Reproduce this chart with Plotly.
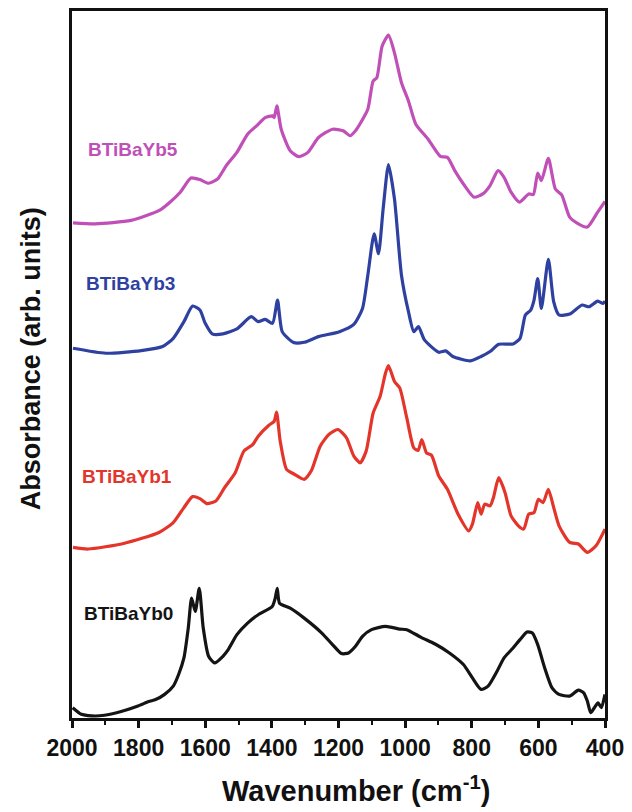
import plotly.graph_objects as go

# FTIR spectra of BTiBaYb glasses (absorbance, arbitrary units, stacked)
wn_yb0 = [1998, 1972, 1930, 1866, 1802, 1770, 1749, 1722, 1696, 1680, 1664, 1651, 1641, 1630,
          1618, 1606, 1590, 1572, 1547, 1531, 1505, 1473, 1441, 1399, 1390, 1384, 1377, 1345,
          1303, 1250, 1218, 1191, 1170, 1149, 1128, 1101, 1059, 1016, 995, 952, 910, 867, 825,
          798, 772, 751, 724, 703, 676, 655, 634, 618, 602, 581, 559, 538, 506, 480, 464, 453,
          443, 432, 421, 411, 400]
abs_yb0 = [0.103, 0.037, 0.020, 0.053, 0.120, 0.165, 0.185, 0.237, 0.320, 0.437, 0.603, 0.903,
           1.203, 1.070, 1.303, 0.903, 0.620, 0.553, 0.620, 0.687, 0.837, 0.953, 1.037, 1.120,
           1.203, 1.303, 1.153, 1.103, 1.003, 0.853, 0.737, 0.647, 0.653, 0.720, 0.820, 0.887,
           0.920, 0.893, 0.887, 0.810, 0.743, 0.653, 0.537, 0.403, 0.287, 0.320, 0.470, 0.603,
           0.703, 0.787, 0.863, 0.853, 0.737, 0.503, 0.303, 0.237, 0.220, 0.280, 0.253, 0.170,
           0.053, 0.103, 0.153, 0.103, 0.237]

wn_yb1 = [1997, 1951, 1845, 1739, 1696, 1664, 1638, 1616, 1595, 1568, 1542, 1510, 1484, 1457,
          1441, 1409, 1393, 1386, 1375, 1356, 1335, 1303, 1282, 1255, 1229, 1202, 1176, 1154,
          1135, 1117, 1096, 1075, 1059, 1050, 1032, 1016, 995, 974, 961, 950, 936, 921, 899,
          873, 841, 809, 798, 782, 772, 761, 745, 735, 719, 700, 682, 660, 644, 629, 613, 600,
          586, 570, 554, 538, 506, 480, 453, 427, 400]
abs_yb1 = [0.113, 0.097, 0.153, 0.263, 0.363, 0.513, 0.623, 0.603, 0.553, 0.580, 0.713, 0.863,
           1.080, 1.147, 1.230, 1.340, 1.380, 1.473, 1.180, 0.897, 0.853, 0.797, 0.880, 1.130,
           1.247, 1.297, 1.213, 1.030, 0.963, 1.080, 1.463, 1.630, 1.863, 1.940, 1.780, 1.713,
           1.413, 1.113, 1.087, 1.197, 1.063, 1.040, 0.830, 0.697, 0.447, 0.280, 0.347, 0.563,
           0.447, 0.547, 0.530, 0.613, 0.813, 0.663, 0.430, 0.330, 0.297, 0.447, 0.463, 0.597,
           0.563, 0.697, 0.513, 0.330, 0.163, 0.147, 0.063, 0.130, 0.297]

wn_yb3 = [1997, 1898, 1792, 1728, 1696, 1664, 1638, 1616, 1600, 1579, 1547, 1505, 1462, 1441,
          1420, 1398, 1383, 1369, 1335, 1303, 1260, 1197, 1154, 1128, 1112, 1093, 1080, 1066,
          1050, 1032, 1011, 990, 974, 960, 942, 899, 878, 857, 804, 772, 745, 719, 676, 655,
          639, 623, 613, 602, 591, 570, 554, 538, 506, 469, 448, 422, 406, 400]
abs_yb3 = [0.163, 0.113, 0.140, 0.180, 0.263, 0.430, 0.587, 0.547, 0.413, 0.307, 0.307, 0.357,
           0.480, 0.430, 0.453, 0.413, 0.647, 0.330, 0.220, 0.223, 0.280, 0.330, 0.403, 0.563,
           0.897, 1.313, 1.113, 1.563, 2.007, 1.663, 0.897, 0.530, 0.330, 0.380, 0.247, 0.123,
           0.137, 0.080, 0.037, 0.080, 0.130, 0.203, 0.207, 0.263, 0.497, 0.547, 0.647, 0.863,
           0.563, 1.057, 0.630, 0.497, 0.507, 0.597, 0.580, 0.637, 0.613, 0.637]

wn_yb5 = [1997, 1930, 1823, 1738, 1706, 1675, 1643, 1616, 1590, 1563, 1537, 1505, 1473, 1446,
          1420, 1398, 1393, 1385, 1372, 1345, 1319, 1292, 1260, 1218, 1186, 1165, 1149, 1133,
          1112, 1096, 1085, 1069, 1050, 1032, 1011, 990, 968, 931, 894, 873, 851, 825, 793,
          767, 745, 721, 703, 682, 657, 629, 615, 602, 591, 570, 549, 530, 506, 480, 453, 422,
          400]
abs_yb5 = [0.073, 0.063, 0.097, 0.197, 0.280, 0.380, 0.523, 0.507, 0.470, 0.513, 0.647, 0.780,
           0.963, 1.047, 1.130, 1.147, 1.130, 1.247, 1.013, 0.797, 0.737, 0.780, 0.930, 1.013,
           0.997, 0.947, 0.997, 1.080, 1.213, 1.497, 1.530, 1.847, 1.957, 1.780, 1.480, 1.297,
           1.063, 0.913, 0.740, 0.730, 0.597, 0.463, 0.330, 0.363, 0.447, 0.597, 0.530, 0.380,
           0.280, 0.363, 0.357, 0.573, 0.497, 0.720, 0.413, 0.353, 0.130, 0.063, 0.030, 0.180,
           0.287]

sample_names = ["BTiBaYb0", "BTiBaYb1", "BTiBaYb3", "BTiBaYb5"]
stack_offsets = [0.0, 1.60, 3.55, 4.90]
label_wn = [1830, 1836, 1823, 1816]
label_abs = [1.05, 0.83, 0.81, 0.81]
tick_vals = [2000, 1800, 1600, 1400, 1200, 1000, 800, 600, 400]

FONT = "Liberation Sans, Arial, sans-serif"
INK = "#111111"
colors = ["#141414", "#E4352B", "#2F41A0", "#C04FB7"]
spectra = [(wn_yb0, abs_yb0), (wn_yb1, abs_yb1), (wn_yb3, abs_yb3), (wn_yb5, abs_yb5)]

fig = go.Figure()
for (wn, ab), off, name, col in zip(spectra, stack_offsets, sample_names, colors):
    fig.add_trace(go.Scatter(
        x=wn, y=[a + off for a in ab], mode="lines", name=name,
        line=dict(color=col, width=3.2, shape="spline", smoothing=0.6),
        showlegend=False,
    ))

# sample names written next to each spectrum
for name, col, lx, ly, off in zip(sample_names, colors, label_wn, label_abs, stack_offsets):
    fig.add_annotation(
        x=lx, y=ly + off, text=name, showarrow=False,
        font=dict(family=FONT, size=19, color=col, weight="bold"),
        xanchor="center", yanchor="middle",
    )

# axis titles
fig.add_annotation(
    xref="paper", yref="paper", x=0.5335, y=-0.101,
    text="Wavenumber (cm<sup>-1</sup>)", showarrow=False,
    font=dict(family=FONT, size=29, color=INK, weight="bold"),
    xanchor="center", yanchor="middle",
)
fig.add_annotation(
    xref="paper", yref="paper", x=-0.078, y=0.508,
    text="Absorbance (arb. units)", showarrow=False, textangle=-90,
    font=dict(family=FONT, size=27, color=INK, weight="bold"),
    xanchor="center", yanchor="middle",
)

fig.update_layout(
    width=632, height=812,
    margin=dict(l=72, r=22, t=8, b=94),
    paper_bgcolor="white", plot_bgcolor="white",
    font=dict(family=FONT, color=INK),
)

fig.update_xaxes(
    range=[2000, 400],
    tickvals=tick_vals, ticktext=[str(v) for v in tick_vals],
    ticks="outside", ticklen=7, tickwidth=2.5, tickcolor=INK,
    minor=dict(dtick=100, tick0=0, ticks="outside", ticklen=4, tickwidth=2, tickcolor=INK),
    showline=True, linewidth=3, linecolor=INK, mirror=True,
    showgrid=False, zeroline=False,
    tickfont=dict(family=FONT, size=23, weight="bold", color=INK),
)

fig.update_yaxes(
    range=[0, 7.10],
    showticklabels=False, ticks="",
    showline=True, linewidth=3, linecolor=INK, mirror=True,
    showgrid=False, zeroline=False,
)

fig.write_html("out.html")
